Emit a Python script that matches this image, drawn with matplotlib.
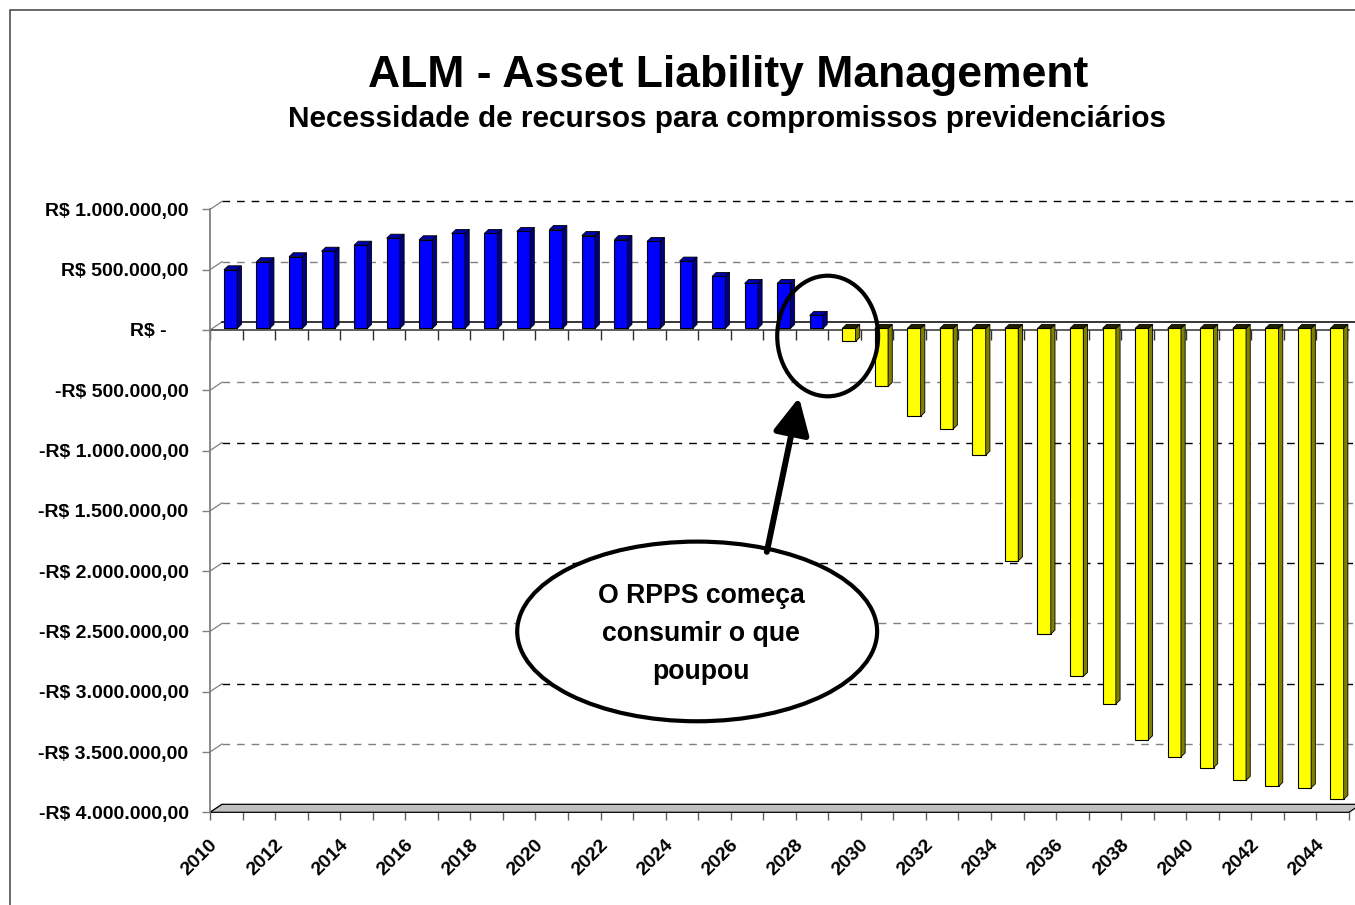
import numpy as np
import matplotlib.pyplot as plt
from matplotlib.patches import Polygon, Ellipse, Rectangle
from matplotlib.ticker import FuncFormatter
from matplotlib.transforms import ScaledTranslation

plt.rcParams['font.family'] = ['Liberation Sans', 'DejaVu Sans']
plt.rcParams['font.weight'] = 'bold'

# Saldo anual (R$): positivo = acumula recursos, negativo = consome reservas
anos = list(range(2010, 2045))
saldo = [
    486000, 553000, 594000, 640000, 690000, 748000, 735000, 787000,
    787000, 804000, 820000, 770000, 737000, 721000, 558000, 431000,
    373000, 373000, 108000,
    -108000, -481000, -729000, -834000, -1052000, -1928000, -2535000,
    -2886000, -3115000, -3411000, -3554000, -3643000, -3748000,
    -3798000, -3811000, -3906000,
]
rotulos_anos = [str(a) for a in anos[::2]]
yticks = np.arange(-4000000, 1000001, 500000)

titulo = 'ALM - Asset Liability Management'
subtitulo = 'Necessidade de recursos para compromissos previdenciários'
nota = 'O RPPS começa\nconsumir o que\npoupou'

W, H = 1355, 905
fig = plt.figure(figsize=(W / 100, H / 100), dpi=100)

# plot area in pixels (front plane of the 3d box)
AX_L, AX_R, AX_T, AX_B = 210, 1349, 209.4, 812.3
ax = fig.add_axes([AX_L / W, 1 - AX_B / H, (AX_R - AX_L) / W, (AX_B - AX_T) / H])
n = len(anos)
ax.set_xlim(-0.5, n - 0.5)
ax.set_ylim(-4000000, 1000000)

px_x = (AX_R - AX_L) / n
px_y = (AX_B - AX_T) / 5000000.0


def dx(p):
    return p / px_x


def dy(p):
    return p / px_y


WX, WY = dx(12), dy(8)   # depth of the walls
x0, x1 = -0.5, n - 0.5

# back wall grid
for v in yticks:
    if v in (0, -4000000):
        continue
    cor = 'black' if v % 1000000 == 0 else '#808080'
    ax.plot([x0 + WX, x1 + WX], [v + WY, v + WY], color=cor, lw=1.0,
            dashes=(5.5, 5), clip_on=False, zorder=1)
# left wall edges at each tick
for v in yticks:
    ax.plot([x0, x0 + WX], [v, v + WY], color='#808080', lw=0.9,
            clip_on=False, zorder=1)

# zero plane
ax.plot([x0 + WX, x1 + WX], [WY, WY], color='black', lw=1.1, clip_on=False, zorder=1.5)
ax.plot([x0, x1], [0, 0], color='#303030', lw=1.1, clip_on=False, zorder=2.5)
ax.vlines(np.arange(x0, x1 + 0.01, 1), -dy(10), 0, color='#303030', lw=1.0, zorder=2.5)

# floor
piso = Polygon([(x0, -4000000), (x1, -4000000), (x1 + WX, -4000000 + WY),
                (x0 + WX, -4000000 + WY)], closed=True, facecolor='#c0c0c0',
               edgecolor='black', lw=0.9, clip_on=False, zorder=2)
ax.add_patch(piso)

# bars with side and top faces
largura = dx(13.3)
sx, sy = dx(4.3), dy(1.6)     # bar front offset inside the box
bx, by = dx(4.2), dy(4.0)     # bar depth
pos = np.arange(n) + sx
frente = ['#0000ff' if v > 0 else '#ffff00' for v in saldo]
lado = ['#000080' if v > 0 else '#808000' for v in saldo]
topo = ['#0000a8' if v > 0 else '#202000' for v in saldo]
ax.bar(pos, saldo, width=largura, bottom=sy, color=frente, edgecolor='black',
       lw=0.8, zorder=3)
for xc, v, cl, ct in zip(pos, saldo, lado, topo):
    xl, xr = xc - largura / 2, xc + largura / 2
    yb, yt = sy, sy + v
    ax.add_patch(Polygon([(xr, yb), (xr, yt), (xr + bx, yt + by), (xr + bx, yb + by)],
                         closed=True, facecolor=cl, edgecolor='black', lw=0.6, zorder=3))
    ytop = max(yb, yt)
    ax.add_patch(Polygon([(xl, ytop), (xr, ytop), (xr + bx, ytop + by), (xl + bx, ytop + by)],
                         closed=True, facecolor=ct, edgecolor='black', lw=0.6, zorder=3))

# axes styling
for s in ('top', 'right', 'bottom'):
    ax.spines[s].set_visible(False)
ax.spines['left'].set_color('#808080')
ax.spines['left'].set_linewidth(1.3)


def brl(v, pos):
    if v == 0:
        return 'R$ -    '
    s = f'{abs(v):,.2f}'.replace(',', 'X').replace('.', ',').replace('X', '.')
    return ('-' if v < 0 else '') + 'R$ ' + s


ax.set_yticks(yticks)
ax.yaxis.set_major_formatter(FuncFormatter(brl))
ax.tick_params(axis='y', direction='out', length=5.8, width=1, color='#808080',
               pad=9.6, labelsize=14)

ax.set_xticks(np.arange(0, n, 2))
ax.set_xticklabels(rotulos_anos)
ax.set_xticks(np.arange(x0, x1 + 0.01, 1), minor=True)
ax.tick_params(axis='x', which='major', length=0, pad=21.5, labelsize=14,
               labelrotation=45)
ax.tick_params(axis='x', which='minor', direction='out', length=5.8, width=1,
               color='#606060')
for lbl in ax.get_xticklabels():
    lbl.set_ha('right')
    lbl.set_va('center')
    lbl.set_rotation_mode('anchor')
    lbl.set_transform(lbl.get_transform() + ScaledTranslation(-8 / 72, 0, fig.dpi_scale_trans))

# annotation: circle around the turning point, balloon and arrow
ax.add_patch(Ellipse((18.48, -50000), 3.1, 1000000, fill=False, edgecolor='black',
                     lw=3.0, zorder=6, clip_on=False))
ax.add_patch(Ellipse((14.47, -2500000), 11.06, 1490000, facecolor='white',
                     edgecolor='black', lw=3.0, zorder=6))
ax.annotate('', xy=(17.6, -560000), xytext=(16.61, -1840000),
            arrowprops=dict(arrowstyle='-|>,head_length=1.1,head_width=0.55',
                            mutation_scale=20, lw=4.3, color='black',
                            shrinkA=0, shrinkB=0), zorder=6)
ax.text(14.6, -2520000, nota, ha='center', va='center', fontsize=19.2,
        linespacing=1.6, zorder=7)

# titles
fig.text(728 / W, 1 - 86.7 / H, titulo, ha='center', va='baseline', fontsize=32)
fig.text(727 / W, 1 - 127 / H, subtitulo, ha='center', va='baseline', fontsize=21.4)

# chart border
fig.patches.append(Rectangle((10 / W, -0.1), 1.2, 1.1 - 10 / H, fill=False,
                             edgecolor='#404040', lw=1.1, transform=fig.transFigure,
                             figure=fig))

fig.savefig('out.png', dpi=100, facecolor='white')
